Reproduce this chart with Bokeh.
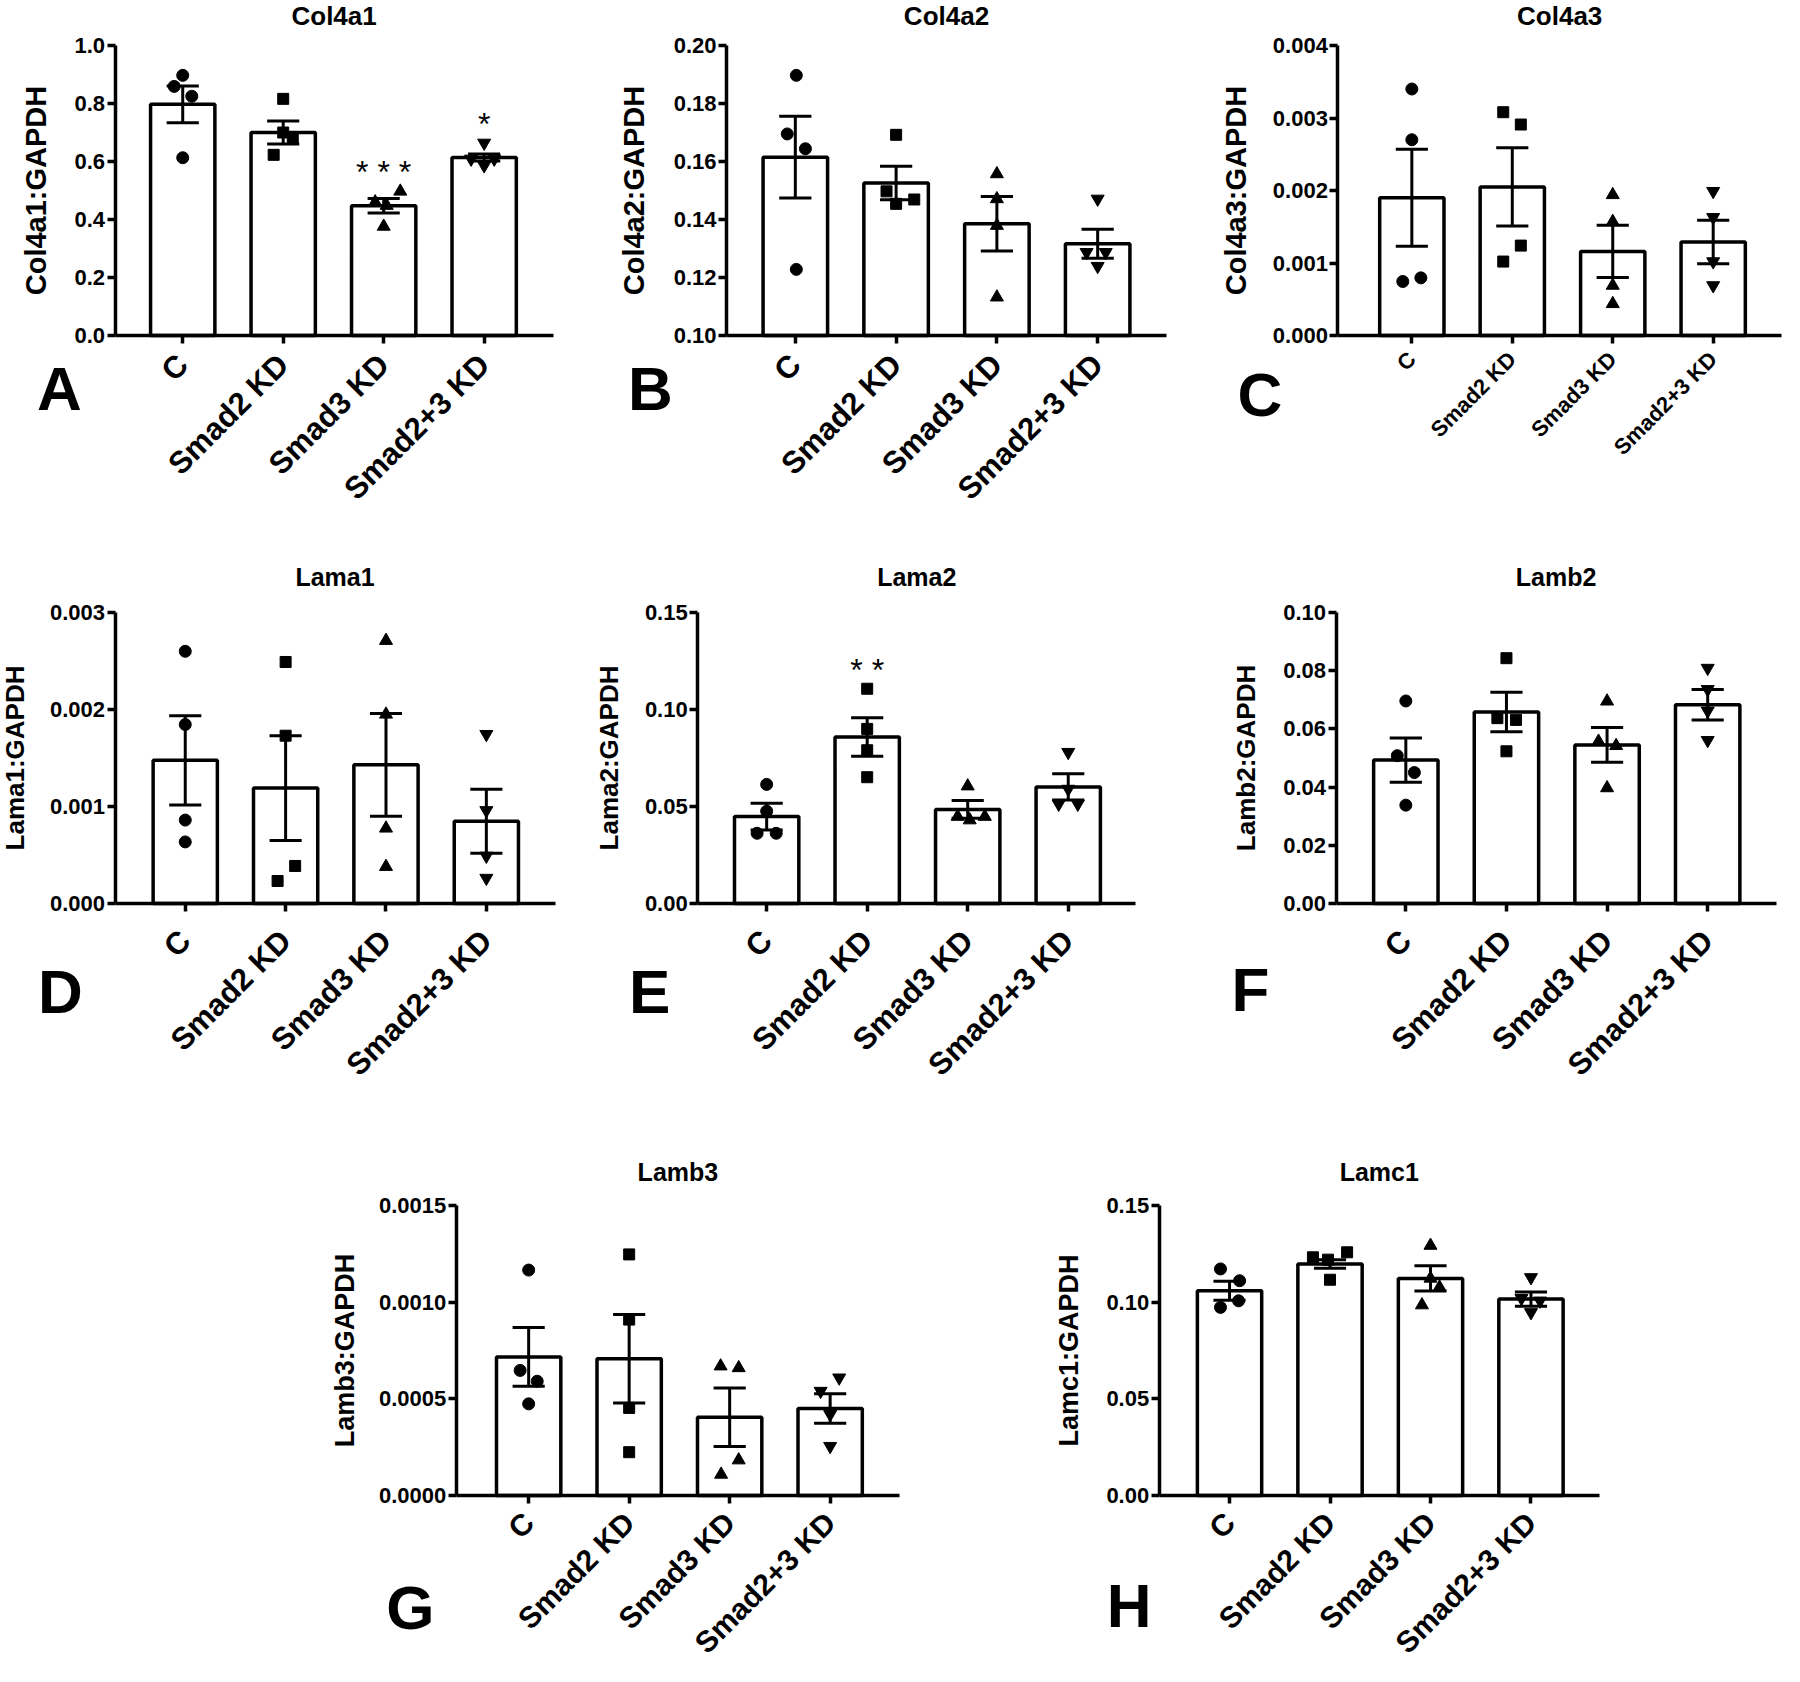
import math
from bokeh.plotting import figure
from bokeh.layouts import column, row, Spacer
from bokeh.models import Range1d, FixedTicker, PrintfTickFormatter, Label
from bokeh.embed import file_html
from bokeh.resources import INLINE

groups = ["C", "Smad2 KD", "Smad3 KD", "Smad2+3 KD"]

# ---- data ----
col4a1_mean = [0.797, 0.700, 0.447, 0.614]
col4a1_sem = [0.063, 0.040, 0.025, 0.012]
col4a1_pts = [[0.897, 0.859, 0.825, 0.613], [0.816, 0.700, 0.678, 0.623],
              [0.497, 0.460, 0.448, 0.376], [0.664, 0.609, 0.609, 0.586]]
col4a1_ticks = [0.0, 0.2, 0.4, 0.6, 0.8, 1.0]
col4a1_sig = ["", "", "* * *", "*"]

col4a2_mean = [0.1615, 0.1526, 0.1385, 0.1316]
col4a2_sem = [0.0141, 0.0058, 0.0094, 0.0050]
col4a2_pts = [[0.1897, 0.1695, 0.1644, 0.1228], [0.1692, 0.1497, 0.1454, 0.1469],
              [0.1557, 0.1471, 0.1379, 0.1132], [0.1471, 0.1287, 0.1287, 0.1239]]
col4a2_ticks = [0.10, 0.12, 0.14, 0.16, 0.18, 0.20]
col4a2_sig = ["", "", "", ""]

col4a3_mean = [0.00190, 0.00205, 0.00116, 0.00129]
col4a3_sem = [0.00067, 0.00054, 0.00036, 0.00030]
col4a3_pts = [[0.00340, 0.00270, 0.000745, 0.000795], [0.00308, 0.00291, 0.00124, 0.00102],
              [0.00194, 0.00157, 0.00069, 0.000437], [0.00199, 0.00163, 0.00102, 0.00069]]
col4a3_ticks = [0.0, 0.001, 0.002, 0.003, 0.004]
col4a3_sig = ["", "", "", ""]

lama1_mean = [0.001476, 0.00119, 0.00143, 0.000849]
lama1_sem = [0.00046, 0.00054, 0.00053, 0.00033]
lama1_pts = [[0.00260, 0.001845, 0.00086, 0.000635], [0.00249, 0.00173, 0.000387, 0.000232],
             [0.00271, 0.00195, 0.000775, 0.00038], [0.001745, 0.00096, 0.00049, 0.000262]]
lama1_ticks = [0.0, 0.001, 0.002, 0.003]
lama1_sig = ["", "", "", ""]

lama2_mean = [0.0448, 0.0858, 0.0485, 0.0601]
lama2_sem = [0.0069, 0.0099, 0.0046, 0.0068]
lama2_pts = [[0.0614, 0.0476, 0.0362, 0.0362], [0.1107, 0.0900, 0.0790, 0.0651],
             [0.0605, 0.0448, 0.0430, 0.0448], [0.0780, 0.0513, 0.0513, 0.0590]]
lama2_ticks = [0.0, 0.05, 0.10, 0.15]
lama2_sig = ["", "* *", "", ""]

lamb2_mean = [0.0493, 0.0658, 0.0545, 0.0683]
lamb2_sem = [0.0076, 0.0068, 0.0060, 0.0052]
lamb2_pts = [[0.0696, 0.0508, 0.0450, 0.0338], [0.0843, 0.0637, 0.0631, 0.0523],
             [0.0695, 0.0557, 0.0542, 0.0397], [0.0809, 0.0736, 0.0662, 0.0561]]
lamb2_ticks = [0.0, 0.02, 0.04, 0.06, 0.08, 0.10]
lamb2_sig = ["", "", "", ""]

lamb3_mean = [0.000717, 0.000707, 0.000405, 0.000450]
lamb3_sem = [0.000152, 0.000229, 0.000151, 0.000076]
lamb3_pts = [[0.001166, 0.000647, 0.000591, 0.000474], [0.001247, 0.000910, 0.000453, 0.000224],
             [0.000669, 0.000660, 0.000183, 0.000109], [0.000609, 0.000540, 0.000420, 0.000255]]
lamb3_ticks = [0.0, 0.0005, 0.0010, 0.0015]
lamb3_sig = ["", "", "", ""]

lamc1_mean = [0.1059, 0.1198, 0.1123, 0.1016]
lamc1_sem = [0.0049, 0.0022, 0.0065, 0.0037]
lamc1_pts = [[0.1172, 0.1111, 0.0973, 0.1007], [0.1232, 0.1220, 0.1258, 0.1116],
             [0.1293, 0.1123, 0.1077, 0.0985], [0.1128, 0.1020, 0.1007, 0.0947]]
lamc1_ticks = [0.0, 0.05, 0.10, 0.15]
lamc1_sig = ["", "", "", ""]

# ---- horizontal jitter of the dots (layout, not data) ----
col4a1_jit = [[0.0, -0.085, 0.09, 0.0], [0.0, 0.0, 0.095, -0.095], [0.165, -0.085, 0.03, 0.0], [0.0, -0.13, 0.1, 0.0]]
col4a2_jit = [[0.01, -0.08, 0.1, 0.01], [0.0, -0.095, 0.0, 0.18], [0, 0, 0, 0], [0.0, -0.11, 0.08, 0.0]]
col4a3_jit = [[0, 0, -0.09, 0.09], [-0.09, 0.085, 0.085, -0.09], [0, 0, 0, 0], [0, 0, 0, 0]]
lama1_jit = [[0, 0, 0, 0], [0, 0, 0.095, -0.08], [0, 0, 0, 0], [0, 0, 0, 0]]
lama2_jit = [[0, 0, -0.095, 0.095], [0, 0, 0, 0], [0, -0.1, 0.02, 0.17], [0, -0.095, 0.095, 0]]
lamb2_jit = [[0, -0.085, 0.085, 0], [0, -0.09, 0.095, 0], [0, -0.085, 0.09, 0], [0, 0, 0, 0]]
lamb3_jit = [[0, -0.085, 0.085, 0], [0, 0, 0, 0], [-0.09, 0.09, 0.09, -0.085], [0.09, -0.095, 0, 0]]
lamc1_jit = [[-0.09, 0.1, -0.09, 0.09], [-0.17, -0.02, 0.17, 0], [0, 0, 0.09, -0.085], [0, -0.095, 0.09, 0]]

MARKERS = ["circle", "square", "triangle", "inverted_triangle"]
MSIZE = [12, 11, 13, 13]
FONT = "Liberation Sans"


def panel(letter, title, ylabel, mean, sem, pts, ticks, fmt, sig, jit, L):
    # pixel geometry inside the figure canvas -> data ranges (frame fills the canvas)
    xb0, xb1 = L["xb"]
    ybase, ytop = ticks[0], ticks[-1]
    u = (L["axr"] - L["axl"]) / (xb1 - xb0)          # px per category unit
    xs0 = xb0 - L["axl"] / u
    xs1 = xs0 + L["w"] / u
    s = (ytop - ybase) / (L["y0"] - L["y1"])          # data per px
    ys0 = ybase - (L["h"] - L["y0"]) * s
    ys1 = ytop + L["y1"] * s

    p = figure(width=L["w"], height=L["h"],
               min_border_left=0, min_border_right=0, min_border_top=0, min_border_bottom=0,
               x_range=Range1d(xs0, xs1), y_range=Range1d(ys0, ys1),
               output_backend="svg", toolbar_location=None, tools="")
    p.outline_line_color = None
    p.xgrid.visible = False
    p.ygrid.visible = False
    p.background_fill_color = "white"
    p.border_fill_color = "white"

    idx = list(range(len(groups)))
    p.vbar(x=idx, top=mean, bottom=ybase, width=0.64, fill_color="white",
           line_color="black", line_width=3.5)
    lo = [m - e for m, e in zip(mean, sem)]
    hi = [m + e for m, e in zip(mean, sem)]
    cap = 0.16
    p.segment(x0=idx, y0=lo, x1=idx, y1=hi, line_color="black", line_width=3)
    p.segment(x0=[i - cap for i in idx], y0=hi, x1=[i + cap for i in idx], y1=hi,
              line_color="black", line_width=3)
    p.segment(x0=[i - cap for i in idx], y0=lo, x1=[i + cap for i in idx], y1=lo,
              line_color="black", line_width=3)
    for i in idx:
        p.scatter(x=[i + d for d in jit[i]], y=pts[i], marker=MARKERS[i], size=MSIZE[i],
                  fill_color="black", line_color="black")

    xa = p.xaxis[0]
    xa.fixed_location = ybase
    xa.bounds = (xb0, xb1)
    xa.ticker = FixedTicker(ticks=idx)
    xa.major_label_overrides = {i: g for i, g in enumerate(groups)}
    xa.major_label_orientation = math.pi / 4
    xa.major_label_text_font = FONT
    xa.major_label_text_font_style = "bold"
    xa.major_label_text_font_size = L["xf"]
    xa.major_label_text_color = "black"
    xa.major_label_standoff = L["xso"]
    xa.minor_tick_line_color = None
    xa.major_tick_in = 0
    xa.major_tick_out = 8
    xa.major_tick_line_width = 3.5
    xa.axis_line_width = 3.5
    xa.axis_line_color = "black"
    xa.major_tick_line_color = "black"

    ya = p.yaxis[0]
    ya.fixed_location = xb0
    ya.bounds = (ybase, ytop)
    ya.ticker = FixedTicker(ticks=ticks)
    ya.formatter = PrintfTickFormatter(format=fmt)
    ya.major_label_text_font = FONT
    ya.major_label_text_font_style = "bold"
    ya.major_label_text_font_size = "22px"
    ya.major_label_text_color = "black"
    ya.major_label_standoff = 2
    ya.minor_tick_line_color = None
    ya.major_tick_in = 0
    ya.major_tick_out = 8
    ya.major_tick_line_width = 3.5
    ya.axis_line_width = 3.5
    ya.axis_line_color = "black"
    ya.major_tick_line_color = "black"
    ya.axis_label = ylabel
    ya.axis_label_text_font = FONT
    ya.axis_label_text_font_style = "bold"
    ya.axis_label_text_font_size = L["yf"]
    ya.axis_label_text_color = "black"
    ya.axis_label_standoff = L["als"]

    p.add_layout(Label(x=(xb0 + xb1) / 2, y=ytop, y_offset=L["ty"], text=title,
                       text_align="center", text_baseline="middle", text_font=FONT,
                       text_font_style="bold", text_font_size=L["tf"], text_color="black"))
    p.add_layout(Label(x=xb0, y=ybase, x_offset=L["lx"], y_offset=-L["ly"],
                       text=letter, text_align="center", text_baseline="middle",
                       text_font=FONT, text_font_style="bold", text_font_size="62px",
                       text_color="black"))
    for i, t in enumerate(sig):
        if t:
            p.add_layout(Label(x=i, y=max(pts[i]), y_offset=19, text=t,
                               text_align="center", text_baseline="middle",
                               text_font=FONT, text_font_size="32px", text_color="black"))
    return p


# figure-canvas geometry: axl/axr = x of y-axis / end of x-axis, y1/y0 = y of top tick / baseline
LAY = {
    "A": dict(w=592, h=540, axl=114.5, axr=552.7, y1=45, y0=335, xb=(-0.674, 3.687),
              ty=30, lx=-55.5, ly=53, als=20, tf="26px", yf="29px", xf="31px", xso=16),
    "B": dict(w=600, h=540, axl=134, axr=574, y1=45, y0=335, xb=(-0.683, 3.683),
              ty=30, lx=-76, ly=53, als=21, tf="26px", yf="29px", xf="31px", xso=16),
    "C": dict(w=592, h=540, axl=145.4, axr=589, y1=45, y0=335, xb=(-0.736, 3.68),
              ty=30, lx=-78, ly=59, als=17, tf="26px", yf="29px", xf="22px", xso=12),
    "D": dict(w=592, h=602, axl=114.5, axr=554.6, y1=72, y0=363, xb=(-0.70, 3.685),
              ty=36, lx=-54.5, ly=88, als=17, tf="25px", yf="26px", xf="31px", xso=24),
    "E": dict(w=600, h=602, axl=105.2, axr=543.4, y1=72, y0=363, xb=(-0.686, 3.673),
              ty=36, lx=-48, ly=88, als=18, tf="25px", yf="26px", xf="31px", xso=24),
    "F": dict(w=592, h=602, axl=143.5, axr=583.6, y1=72, y0=363, xb=(-0.694, 3.68),
              ty=36, lx=-85.5, ly=86, als=20, tf="25px", yf="26px", xf="31px", xso=24),
    "G": dict(w=700, h=524, axl=163.8, axr=607, y1=63, y0=353, xb=(-0.72, 3.69),
              ty=34, lx=-46, ly=112, als=16, tf="25px", yf="27px", xf="30px", xso=14),
    "H": dict(w=707, h=524, axl=166.7, axr=606.8, y1=63, y0=353, xb=(-0.70, 3.68),
              ty=34, lx=-30, ly=110, als=20, tf="25px", yf="27px", xf="30px", xso=14),
}

pA = panel("A", "Col4a1", "Col4a1:GAPDH", col4a1_mean, col4a1_sem, col4a1_pts, col4a1_ticks, "%.1f", col4a1_sig, col4a1_jit, LAY["A"])
pB = panel("B", "Col4a2", "Col4a2:GAPDH", col4a2_mean, col4a2_sem, col4a2_pts, col4a2_ticks, "%.2f", col4a2_sig, col4a2_jit, LAY["B"])
pC = panel("C", "Col4a3", "Col4a3:GAPDH", col4a3_mean, col4a3_sem, col4a3_pts, col4a3_ticks, "%.3f", col4a3_sig, col4a3_jit, LAY["C"])
pD = panel("D", "Lama1", "Lama1:GAPDH", lama1_mean, lama1_sem, lama1_pts, lama1_ticks, "%.3f", lama1_sig, lama1_jit, LAY["D"])
pE = panel("E", "Lama2", "Lama2:GAPDH", lama2_mean, lama2_sem, lama2_pts, lama2_ticks, "%.2f", lama2_sig, lama2_jit, LAY["E"])
pF = panel("F", "Lamb2", "Lamb2:GAPDH", lamb2_mean, lamb2_sem, lamb2_pts, lamb2_ticks, "%.2f", lamb2_sig, lamb2_jit, LAY["F"])
pG = panel("G", "Lamb3", "Lamb3:GAPDH", lamb3_mean, lamb3_sem, lamb3_pts, lamb3_ticks, "%.4f", lamb3_sig, lamb3_jit, LAY["G"])
pH = panel("H", "Lamc1", "Lamc1:GAPDH", lamc1_mean, lamc1_sem, lamc1_pts, lamc1_ticks, "%.2f", lamc1_sig, lamc1_jit, LAY["H"])

layout = column(
    row(pA, pB, pC),
    row(pD, pE, pF),
    row(Spacer(width=292, height=524), pG, pH),
)

open("out.html", "w").write(file_html(layout, INLINE))
